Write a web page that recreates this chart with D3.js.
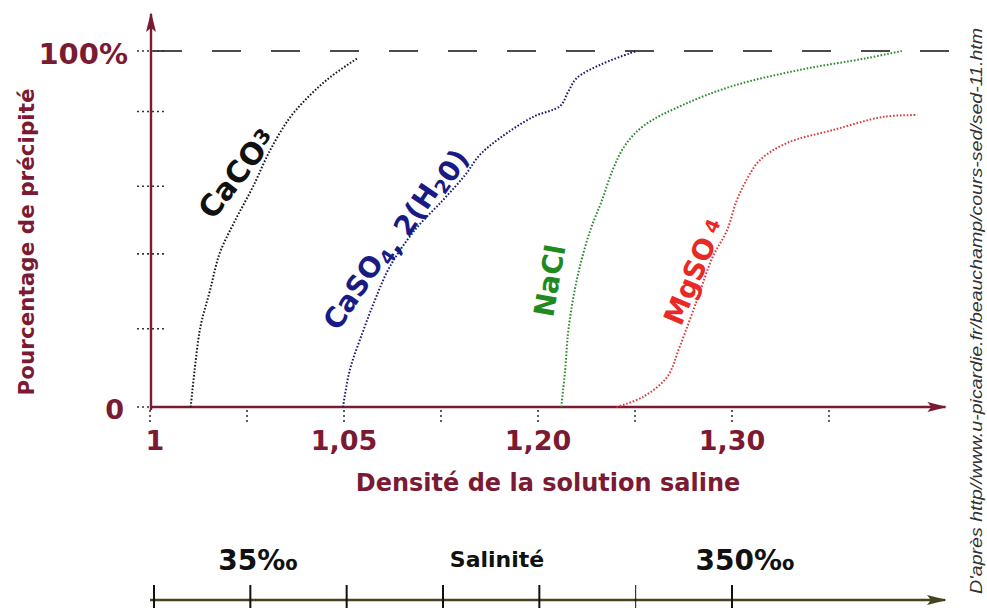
<!DOCTYPE html>
<html>
<head>
    <title>Précipitation des sels</title>
    <script src="https://d3js.org/d3.v7.min.js"></script>
    <style>
        body { margin: 0; background: #fff; }
        svg { display: block; font-family: "DejaVu Sans", Verdana, sans-serif; }
    </style>
</head>
<body>
<script>
    // density axis: positions 0..7 are equally spaced ticks
    const densityTicks = [0, 1, 2, 3, 4, 5, 6, 7];
    const densityLabels = ["1", "", "1,05", "", "1,20", "", "1,30", ""];
    const pctTicks = [0, 22, 43, 62, 83, 100];
    const salinityTicks = [0, 1, 2, 3, 4, 5, 6];

    // curves: [density position, % precipitated]
    const caco3 = [[0.42,0],[0.46,10.4],[0.52,22.5],[0.62,32.9],[0.72,43.3],[0.88,52.5],[1.06,61.8],
        [1.24,72.2],[1.44,81.2],[1.65,87.6],[1.86,92.7],[2.14,98.0]];
    const caso4 = [[1.99,0],[2.06,10.4],[2.19,20.8],[2.32,30.1],[2.47,39.3],[2.73,49.7],[3.02,58.1],
        [3.25,65.2],[3.40,70.8],[3.61,75.6],[3.95,81.5],[4.23,84.6],[4.31,88.5],[4.40,92.4],
        [4.64,96.1],[4.95,99.4],[5.02,100]];
    const nacl = [[4.24,0],[4.28,10.4],[4.31,20.8],[4.36,30.1],[4.43,39.3],[4.54,49.7],[4.66,58.1],
        [4.77,66.6],[4.90,73.6],[5.10,79.2],[5.49,84.8],[6.01,90.2],[6.70,94.7],[7.39,98.0],[7.75,100]];
    const mgso4 = [[4.81,0],[5.08,2.8],[5.33,8.4],[5.46,16.9],[5.64,30.1],[5.80,42.1],[5.95,49.7],
        [6.05,58.1],[6.16,64.3],[6.29,69.4],[6.57,74.2],[7.04,77.8],[7.56,81.5],[7.91,82.0]];

    const width = 987, height = 608;
    const maroon = "#7b1a33";
    const olive = "#45441e";

    const svg = d3.select("body").append("svg")
        .attr("width", width)
        .attr("height", height);

    const x = d3.scaleLinear().domain([0, 8.2]).range([150, 945.4]);
    const y = d3.scaleLinear().domain([0, 100]).range([407, 51]);

    // arrow markers
    const defs = svg.append("defs");
    function marker(id, color) {
        defs.append("marker")
            .attr("id", id)
            .attr("viewBox", "0 0 20 10")
            .attr("refX", 18).attr("refY", 5)
            .attr("markerWidth", 20).attr("markerHeight", 10)
            .attr("markerUnits", "userSpaceOnUse")
            .attr("orient", "auto")
            .append("path")
            .attr("d", "M0,0 L20,5 L0,10 L4,5 Z")
            .attr("fill", color);
    }
    marker("arrMaroon", maroon);
    marker("arrOlive", olive);

    // 100% dashed line
    svg.append("line")
        .attr("x1", 153).attr("x2", 950)
        .attr("y1", y(100)).attr("y2", y(100))
        .attr("stroke", "#111").attr("stroke-width", 1.6)
        .attr("stroke-dasharray", "29,30");

    // y tick marks (dotted)
    svg.append("g").selectAll("line")
        .data(pctTicks)
        .join("line")
        .attr("x1", 137).attr("x2", 165)
        .attr("y1", d => y(d)).attr("y2", d => y(d))
        .attr("stroke", "#333").attr("stroke-width", 1.6)
        .attr("stroke-dasharray", "2,3");

    // x tick marks (dotted)
    svg.append("g").selectAll("line")
        .data(densityTicks)
        .join("line")
        .attr("x1", d => x(d)).attr("x2", d => x(d))
        .attr("y1", 410).attr("y2", 423)
        .attr("stroke", "#333").attr("stroke-width", 1.6)
        .attr("stroke-dasharray", "2,3");

    // axes
    svg.append("line")
        .attr("x1", x(0) + 1).attr("x2", x(0) + 1)
        .attr("y1", 410).attr("y2", 14)
        .attr("stroke", maroon).attr("stroke-width", 2.4)
        .attr("marker-end", "url(#arrMaroon)");
    svg.append("line")
        .attr("x1", x(0)).attr("x2", x(8.2))
        .attr("y1", 407).attr("y2", 407)
        .attr("stroke", maroon).attr("stroke-width", 2.4)
        .attr("marker-end", "url(#arrMaroon)");

    // curves
    const line = d3.line()
        .x(d => x(d[0])).y(d => y(d[1]))
        .curve(d3.curveCatmullRom);
    const series = [
        { data: caco3, color: "#1a1a1a" },
        { data: caso4, color: "#1c1c6e" },
        { data: nacl, color: "#2b8a2b" },
        { data: mgso4, color: "#d83a3a" }
    ];
    svg.append("g").selectAll("path")
        .data(series)
        .join("path")
        .attr("d", d => line(d.data))
        .attr("fill", "none")
        .attr("stroke", d => d.color)
        .attr("stroke-width", 2)
        .attr("stroke-dasharray", "1.6,1.8");

    // axis labels
    svg.append("text")
        .attr("x", 128).attr("y", 64)
        .attr("text-anchor", "end")
        .attr("font-size", 29).attr("font-weight", "bold")
        .attr("fill", maroon).text("100%");
    svg.append("text")
        .attr("x", 124).attr("y", 419)
        .attr("text-anchor", "end")
        .attr("font-size", 27).attr("font-weight", "bold")
        .attr("fill", maroon).text("0");

    svg.append("g").selectAll("text")
        .data(densityTicks.filter(d => densityLabels[d] !== ""))
        .join("text")
        .attr("x", d => x(d) + (d === 0 ? 5 : 0))
        .attr("y", 450)
        .attr("text-anchor", "middle")
        .attr("font-size", 27).attr("font-weight", "bold")
        .attr("fill", maroon)
        .text(d => densityLabels[d]);

    svg.append("text")
        .attr("x", 548).attr("y", 491)
        .attr("text-anchor", "middle")
        .attr("font-size", 24).attr("font-weight", "bold")
        .attr("fill", maroon).text("Densité de la solution saline");

    svg.append("text")
        .attr("transform", "translate(34,242) rotate(-90)")
        .attr("text-anchor", "middle")
        .attr("font-size", 21.5).attr("font-weight", "bold")
        .attr("fill", maroon).text("Pourcentage de précipité");

    // curve labels
    function label(tx, ty, angle, size, color, parts) {
        const t = svg.append("text")
            .attr("transform", `translate(${tx},${ty}) rotate(${angle})`)
            .attr("font-size", size).attr("font-weight", "bold")
            .attr("fill", color);
        parts.forEach(p => {
            if (p.sub !== undefined) {
                t.append("tspan").attr("font-size", size * 0.68).attr("dy", p.sub).text(p.t);
                t.append("tspan").attr("dy", -p.sub).text("");
            } else {
                t.append("tspan").text(p.t);
            }
        });
    }
    label(213, 221, -52, 30, "#111", [{t: "CaCO"}, {t: "3", sub: -6}]);
    label(338, 332, -56, 28, "#1a1a85", [{t: "CaSO"}, {t: "4", sub: 6}, {t: ", 2(H"}, {t: "2", sub: 6}, {t: "0)"}]);
    label(553, 318, -80, 28, "#1f8a1f", [{t: "NaCl"}]);
    label(681, 327, -67, 28, "#e82a24", [{t: "MgSO"}, {t: " 4", sub: -4}]);

    // salinity axis
    const xs = d3.scaleLinear().domain([0, 6]).range([154, 732]);
    svg.append("line")
        .attr("x1", 150).attr("x2", 945)
        .attr("y1", 600).attr("y2", 600)
        .attr("stroke", olive).attr("stroke-width", 2.6)
        .attr("marker-end", "url(#arrOlive)");
    svg.append("g").selectAll("line")
        .data(salinityTicks)
        .join("line")
        .attr("x1", d => xs(d)).attr("x2", d => xs(d))
        .attr("y1", 585).attr("y2", 608)
        .attr("stroke", "#111")
        .attr("stroke-width", d => d === 5 ? 1 : 2);

    svg.append("text")
        .attr("x", 258).attr("y", 570)
        .attr("text-anchor", "middle")
        .attr("font-size", 28).attr("font-weight", "bold")
        .attr("fill", "#111").text("35‰");
    svg.append("text")
        .attr("x", 497).attr("y", 567)
        .attr("text-anchor", "middle")
        .attr("font-size", 22).attr("font-weight", "bold")
        .attr("fill", "#111").text("Salinité");
    svg.append("text")
        .attr("x", 745).attr("y", 570)
        .attr("text-anchor", "middle")
        .attr("font-size", 28).attr("font-weight", "bold")
        .attr("fill", "#111").text("350‰");

    // source
    svg.append("text")
        .attr("transform", "translate(982,594) rotate(-90)")
        .attr("font-family", "Liberation Sans, Arial, sans-serif")
        .attr("font-size", 16).attr("font-style", "italic")
        .attr("fill", "#333")
        .attr("textLength", 566).attr("lengthAdjust", "spacingAndGlyphs")
        .text("D'après http//www.u-picardie.fr/beauchamp/cours-sed/sed-11.htm");
</script>
</body>
</html>
